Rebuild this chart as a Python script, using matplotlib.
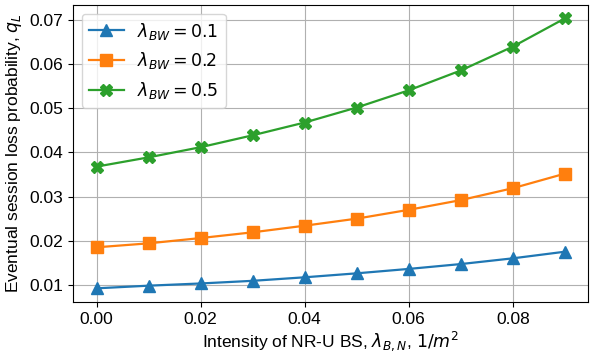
import matplotlib
matplotlib.use("Agg")
import matplotlib.pyplot as plt

plt.rcParams["font.family"] = ["Liberation Sans", "DejaVu Sans"]
plt.rcParams["font.size"] = 12.5

x = [0.00, 0.01, 0.02, 0.03, 0.04, 0.05, 0.06, 0.07, 0.08, 0.09]
q_01 = [0.0092, 0.0098, 0.0103, 0.0109, 0.0117, 0.0126, 0.0136, 0.0147, 0.0160, 0.0175]
q_02 = [0.0185, 0.0194, 0.0206, 0.0219, 0.0234, 0.0250, 0.0270, 0.0292, 0.0319, 0.0352]
q_05 = [0.0368, 0.0389, 0.0412, 0.0439, 0.0468, 0.0502, 0.0541, 0.0586, 0.0640, 0.0704]

fig = plt.figure(figsize=(5.9, 3.53), dpi=100)
ax = fig.add_axes([0.124, 0.145, 0.873, 0.841])
ax.plot(x, q_01, marker="^", ms=9, lw=1.6, label=r"$\lambda_{BW}=0.1$")
ax.plot(x, q_02, marker="s", ms=8.5, lw=1.6, label=r"$\lambda_{BW}=0.2$")
ax.plot(x, q_05, marker="X", ms=9, lw=1.6, label=r"$\lambda_{BW}=0.5$")
ax.grid(True)
ax.set_xticks([0.00, 0.02, 0.04, 0.06, 0.08])
ax.set_xlabel(r"Intensity of NR-U BS, $\lambda_{B,N}$, $1/m^2$", labelpad=2)
ax.set_ylabel(r"Eventual session loss probability, $q_L$")
ax.legend(loc="upper left", fontsize=12.5)
fig.savefig("out.png")
